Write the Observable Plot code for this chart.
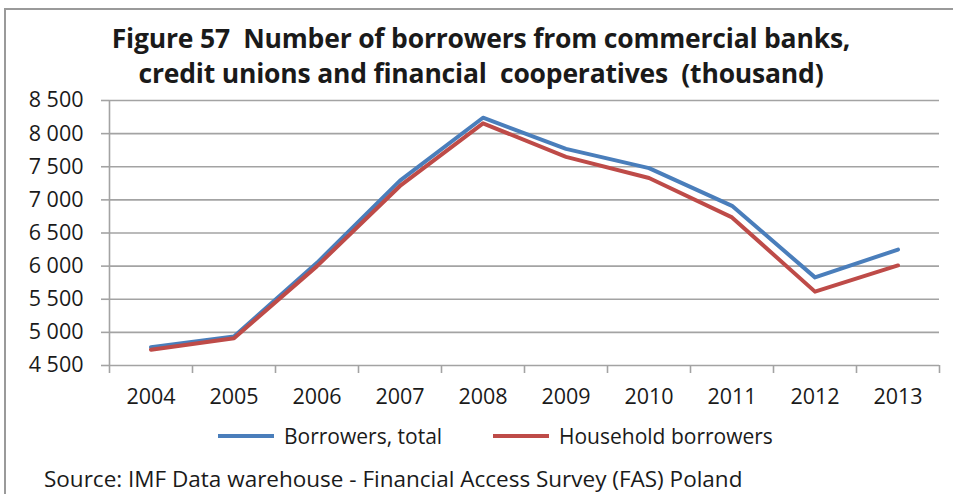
<!DOCTYPE html>
<html>
<head>
<meta charset="utf-8">
<script src="https://cdn.jsdelivr.net/npm/d3@7"></script>
<script src="https://cdn.jsdelivr.net/npm/@observablehq/plot@0.6"></script>
<style>
  html, body { margin: 0; padding: 0; background: #fff; }
  body { width: 953px; height: 494px; position: relative; overflow: hidden; font-family: "Open Sans", sans-serif; color: #1a1a1a; }
  #frame { position: absolute; left: 4px; top: 8px; width: 960px; height: 500px; border-top: 2px solid #9a9a9a; border-left: 2px solid #9a9a9a; }
  #title { position: absolute; left: 0; top: 21px; width: 962px; text-align: center; font-weight: bold; font-size: 26.5px; line-height: 35px; letter-spacing: -0.2px; white-space: nowrap; }
  #chart { position: absolute; left: 0; top: 80px; }
  .item { position: absolute; top: 422px; display: flex; align-items: center; font-size: 21px; white-space: nowrap; }
  .sw { width: 56px; height: 4px; margin-right: 10px; }
  #caption { position: absolute; left: 44px; top: 467px; font-size: 22.5px; line-height: 24px; white-space: nowrap; }
</style>
</head>
<body>
<div id="frame"></div>
<div id="title">Figure 57&nbsp; Number of borrowers from commercial banks,<br>credit unions and financial&nbsp; cooperatives&nbsp; (thousand)</div>
<div id="chart"></div>
<div id="legend"></div>
<div id="caption">Source: IMF Data warehouse - Financial Access Survey (FAS) Poland</div>
<script>
const years = [2004, 2005, 2006, 2007, 2008, 2009, 2010, 2011, 2012, 2013];
const borrowersTotal = [4775, 4938, 6050, 7290, 8240, 7770, 7480, 6910, 5830, 6250];
const householdBorrowers = [4737, 4912, 6000, 7210, 8155, 7650, 7330, 6735, 5615, 6010];
const yTicks = [4500, 5000, 5500, 6000, 6500, 7000, 7500, 8000, 8500];
const seriesNames = ["Borrowers, total", "Household borrowers"];
const seriesColors = ["#4a7ebb", "#be4b48"];
const legendLeft = [218, 493];

const totalData = years.map((y, i) => ({year: y, value: borrowersTotal[i], series: seriesNames[0]}));
const householdData = years.map((y, i) => ({year: y, value: householdBorrowers[i], series: seriesNames[1]}));
const boundaries = years.map(y => y - 0.5).concat([years[years.length - 1] + 0.5]);

const fmt = d => d3.format(",")(d).replace(/,/g, " ");
const gridColor = "#a3a3a3";

const chart = Plot.plot({
  width: 953,
  height: 330,
  marginLeft: 109,
  marginRight: 14,
  marginTop: 20,
  marginBottom: 45,
  style: {fontFamily: "'Open Sans', sans-serif", color: "#1a1a1a", background: "transparent", overflow: "visible"},
  x: {domain: [boundaries[0], boundaries[boundaries.length - 1]], label: null},
  y: {domain: [yTicks[0], yTicks[yTicks.length - 1]], label: null},
  color: {domain: seriesNames, range: seriesColors},
  marks: [
    Plot.gridY(yTicks, {stroke: gridColor, strokeOpacity: 1, strokeWidth: 1.6}),
    Plot.axisY(yTicks, {tickSize: 8, tickPadding: 18, tickFormat: fmt, stroke: gridColor, strokeWidth: 1.6, fontSize: 21.5, label: null}),
    Plot.ruleX([boundaries[0]], {stroke: gridColor, strokeWidth: 1.6}),
    Plot.axisX(boundaries, {tickSize: 8, tickFormat: () => "", stroke: gridColor, strokeWidth: 1.6, label: null}),
    Plot.axisX(years, {tickSize: 0, tickPadding: 23, tickFormat: d => String(d), fontSize: 21.5, label: null}),
    Plot.lineY(totalData, {x: "year", y: "value", stroke: "series", strokeWidth: 4}),
    Plot.lineY(householdData, {x: "year", y: "value", stroke: "series", strokeWidth: 4})
  ]
});
document.getElementById("chart").appendChild(chart);

const legend = document.getElementById("legend");
seriesNames.forEach((name, i) => {
  const item = document.createElement("div");
  item.className = "item";
  item.style.left = legendLeft[i] + "px";
  const sw = document.createElement("div");
  sw.className = "sw";
  sw.style.background = seriesColors[i];
  const label = document.createElement("span");
  label.textContent = name;
  item.appendChild(sw);
  item.appendChild(label);
  legend.appendChild(item);
});
</script>
</body>
</html>
